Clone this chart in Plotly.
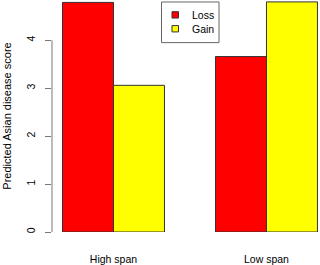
import plotly.graph_objects as go

categories = ["High span", "Low span"]
series_names = ["Loss", "Gain"]
loss = [4.79, 3.66]
gain = [3.06, 4.80]
colors = ["#FF0000", "#FFFF00"]
y_ticks = [0, 1, 2, 3, 4]

fig = go.Figure()
for name, vals, col in zip(series_names, [loss, gain], colors):
    fig.add_trace(go.Bar(name=name, x=categories, y=vals,
                         marker=dict(color=col, line=dict(color="#333333", width=1))))

font = "Liberation Sans, Arial, sans-serif"
L, W, H = 52, 268, 234


def px(x):
    return (x - L) / W


def py(y):
    return 1 - y / H


fig.update_layout(
    width=320, height=265,
    margin=dict(l=L, r=0, t=0, b=31),
    paper_bgcolor="white", plot_bgcolor="white",
    barmode="group", bargap=1/3, bargroupgap=0,
    font=dict(family=font, size=11, color="black"),
    showlegend=False,
)
fig.update_xaxes(range=[-0.402, 1.35], showline=False, ticks="", showgrid=False,
                 zeroline=False, tickfont=dict(size=10.5), ticklabelstandoff=19)
fig.update_yaxes(range=[0, 4.84], tickvals=y_ticks, ticks="outside", ticklen=6,
                 tickcolor="#777777", showline=False, showgrid=False, zeroline=False,
                 tickangle=-90, tickfont=dict(size=10.5), ticklabelstandoff=6,
                 title=dict(text="Predicted Asian disease score", font=dict(size=11), standoff=10))
fig.add_shape(type="line", xref="paper", yref="y", x0=0, x1=0, y0=0, y1=4,
              line=dict(color="#777777", width=1))

# legend box drawn manually
fig.add_shape(type="rect", xref="paper", yref="paper", x0=px(161.5), x1=px(219), y0=py(2), y1=py(43),
              line=dict(color="#666666", width=1), fillcolor="white")
for i, (name, col) in enumerate(zip(series_names, colors)):
    cy = 15 + i * 14
    fig.add_shape(type="rect", xref="paper", yref="paper", x0=px(172), x1=px(178.5),
                  y0=py(cy - 3.2), y1=py(cy + 3.2), line=dict(color="#333333", width=1), fillcolor=col)
    fig.add_annotation(xref="paper", yref="paper", x=px(190), y=py(cy), text=name, showarrow=False,
                       xanchor="left", yanchor="middle", font=dict(size=10.5, family=font, color="black"))
fig.write_html("out.html")
